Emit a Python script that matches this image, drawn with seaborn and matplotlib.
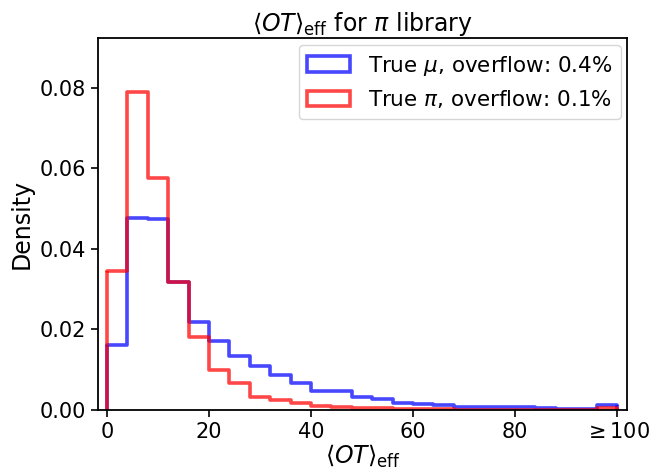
import numpy as np
import pandas as pd
import matplotlib
matplotlib.use("Agg")
import matplotlib.pyplot as plt
import seaborn as sns
from matplotlib.patches import Patch

# bin edges (width 4, last bin holds overflow >= 100)
bin_edges = list(range(0, 101, 4))

muon_density = [0.0160, 0.0476, 0.0475, 0.0317, 0.0219, 0.0172, 0.0133, 0.0110,
                0.0087, 0.0066, 0.0048, 0.0047, 0.0032, 0.0026, 0.0018, 0.0015,
                0.0011, 0.0007, 0.0008, 0.0006, 0.0006, 0.0005, 0.0003, 0.0003,
                0.0011]
pion_density = [0.0345, 0.0790, 0.0575, 0.0317, 0.0181, 0.0098, 0.0068, 0.0033,
                0.0025, 0.0016, 0.0010, 0.0007, 0.0005, 0.0004, 0.0003, 0.0002,
                0.0002, 0.0001, 0.0001, 0.0001, 0.0001, 0.0001, 0.0001, 0.0001,
                0.0005]

series_labels = [r"True $\mu$, overflow: 0.4%", r"True $\pi$, overflow: 0.1%"]
series_colors = ["blue", "red"]
x_ticks = [0, 20, 40, 60, 80, 100]
x_tick_labels = ["0", "20", "40", "60", "80", r"$\geq$100"]
y_ticks = [0.00, 0.02, 0.04, 0.06, 0.08]

sns.set_style("ticks", {"axes.edgecolor": "black", "text.color": "black",
                        "axes.labelcolor": "black", "xtick.color": "black",
                        "ytick.color": "black"})
plt.rcParams["font.family"] = ["DejaVu Sans"]
plt.rcParams["mathtext.fontset"] = "dejavusans"

fig, ax = plt.subplots(figsize=(6.52, 4.69), dpi=100)
fig.subplots_adjust(left=0.15, right=0.962, top=0.918, bottom=0.126)

edges = [float(e) for e in bin_edges]
centers = [(a + b) / 2 for a, b in zip(edges[:-1], edges[1:])]

handles = []
for vals, col, lab in zip([muon_density, pion_density], series_colors, series_labels):
    df = pd.DataFrame({"x": centers, "w": vals})
    sns.histplot(data=df, x="x", weights="w", bins=edges, stat="count",
                 element="step", fill=False, color=col, alpha=0.72,
                 linewidth=2.6, ax=ax)
    # close the outline at the outer edges like a step histogram
    ax.vlines([edges[0], edges[-1]], 0, [vals[0], vals[-1]], colors=col,
              alpha=0.72, linewidth=2.6)
    handles.append(Patch(facecolor="none", edgecolor=col, alpha=0.72,
                         linewidth=2.6, label=lab))

ax.set_xlim(-1.8, 102)
ax.set_ylim(0, 0.0922)
ax.set_xticks(x_ticks)
ax.set_xticklabels(x_tick_labels)
ax.set_yticks(y_ticks)
ax.set_yticklabels([f"{v:.2f}" for v in y_ticks])
ax.tick_params(labelsize=15, length=5, width=1.2, colors="black")
for s in ax.spines.values():
    s.set_linewidth(1.3)
    s.set_color("black")
    s.set_visible(True)

ax.set_xlabel(r"$\langle OT\rangle_{\rm eff}$", fontsize=17, labelpad=1)
ax.set_ylabel("Density", fontsize=17)
ax.set_title(r"$\langle OT\rangle_{\rm eff}$ for $\pi$ library", fontsize=17, pad=5)

ax.legend(handles=handles, loc="upper right", fontsize=15.5, frameon=True,
          handlelength=2.0, borderaxespad=0.3)

fig.savefig("out.png", dpi=100)
